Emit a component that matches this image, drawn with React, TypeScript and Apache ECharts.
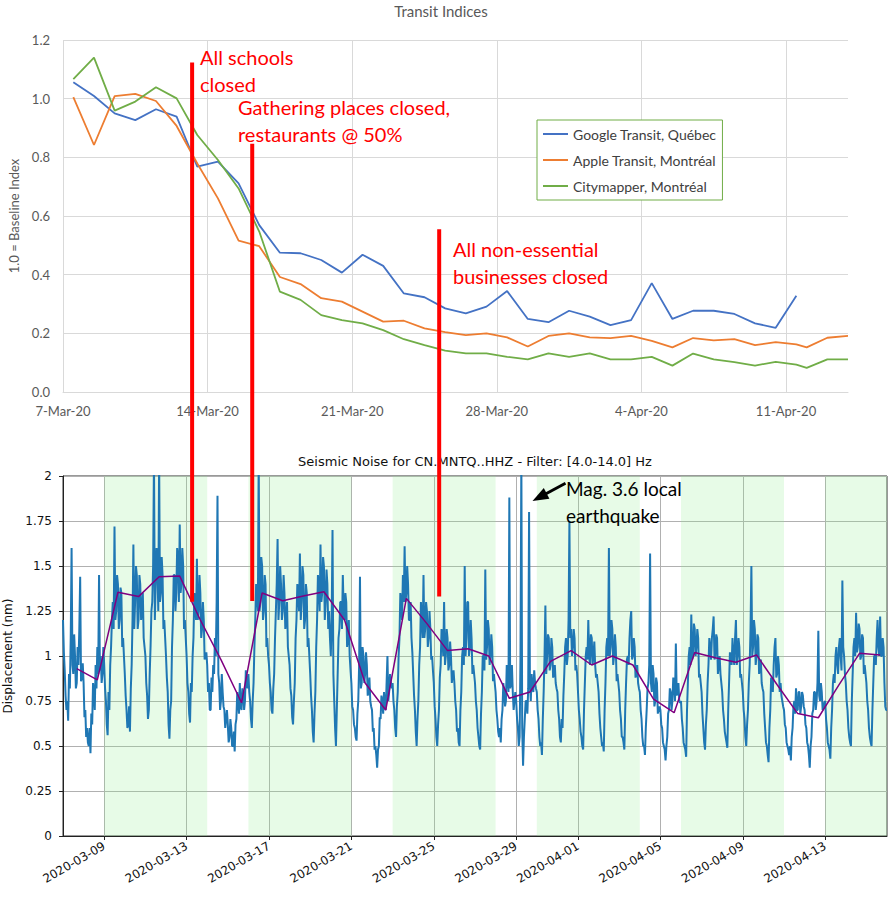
import React, { useEffect, useRef } from 'react';
import * as echarts from 'echarts';

// ---------------- Transit Indices (top chart) ----------------
// x = days since 2020-03-07 00:00; daily values are plotted at noon (k + 0.5)
const transitTickDays = [0, 7, 14, 21, 28, 35];
const monthNames = ['Jan', 'Feb', 'Mar', 'Apr', 'May'];
const googleQuebec = [
  1.056, 1.009, 0.95, 0.927, 0.964, 0.939, 0.768, 0.785, 0.711, 0.569,
  0.475, 0.473, 0.45, 0.407, 0.468, 0.43, 0.336, 0.323, 0.285, 0.268,
  0.291, 0.344, 0.249, 0.238, 0.277, 0.257, 0.228, 0.245, 0.371, 0.249,
  0.277, 0.277, 0.266, 0.234, 0.219, 0.328,
];
const appleMontreal = [
  1.005, 0.842, 1.009, 1.016, 0.992, 0.907, 0.779, 0.66, 0.516, 0.497,
  0.392, 0.368, 0.32, 0.308, 0.274, 0.24, 0.243, 0.217, 0.204, 0.194,
  0.2, 0.186, 0.155, 0.191, 0.2, 0.186, 0.184, 0.191, 0.174, 0.152,
  0.184, 0.176, 0.18, 0.16, 0.17, 0.162,
];
const citymapperMontreal = [
  1.067, 1.14, 0.959, 0.99, 1.039, 1.001, 0.876, 0.791, 0.694, 0.547,
  0.342, 0.314, 0.262, 0.245, 0.234, 0.211, 0.18, 0.16, 0.141, 0.132,
  0.132, 0.12, 0.111, 0.132, 0.12, 0.132, 0.111, 0.111, 0.12, 0.09,
  0.131, 0.111, 0.102, 0.09, 0.103, 0.093,
];
const tailDays = [36, 37, 38];
const appleTail = [0.152, 0.185, 0.191];
const citymapperTail = [0.082, 0.111, 0.111];

// ---------------- Seismic noise (bottom chart) ----------------
// hourly samples starting 2020-03-07 00 UTC, 24 per day (one row per day)
const seismicTickDates = [
  '2020-03-09', '2020-03-13', '2020-03-17', '2020-03-21', '2020-03-25',
  '2020-03-29', '2020-04-01', '2020-04-05', '2020-04-09', '2020-04-13',
];
const weekdaySpans = [
  ['2020-03-09', '2020-03-14'], ['2020-03-16', '2020-03-21'], ['2020-03-23', '2020-03-28'],
  ['2020-03-30', '2020-04-04'], ['2020-04-06', '2020-04-11'], ['2020-04-13', '2020-04-16'],
];
const noiseWeek1 = [
  1.2, 1.02, 0.92, 0.78, 0.7, 0.75, 0.64, 0.9, 0.82, 1.1, 1.6, 0.95, 0.9, 1.12, 1.0, 0.82, 0.85, 1.05, 0.95, 1.15, 1.44, 0.86, 0.88, 0.96,
  0.85, 0.66, 0.7, 0.55, 0.6, 0.52, 0.5, 0.6, 0.46, 0.68, 0.62, 0.85, 0.8, 0.7, 0.95, 0.82, 1.05, 0.9, 1.45, 0.92, 1.0, 0.85, 0.9, 1.05,
  0.95, 0.82, 0.75, 0.62, 0.56, 0.8, 0.7, 0.95, 1.05, 1.2, 1.3, 1.15, 1.72, 1.2, 1.25, 1.45, 1.4, 1.15, 1.2, 1.38, 1.35, 1.05, 1.1, 1.0,
  0.9, 0.78, 0.7, 0.6, 0.62, 0.72, 0.58, 0.82, 0.95, 1.2, 1.62, 1.15, 1.3, 1.5, 1.45, 1.15, 1.2, 1.45, 1.4, 1.2, 1.25, 1.35, 1.1, 1.05,
  1.0, 0.85, 0.78, 0.65, 0.7, 0.9, 1.05, 1.25, 1.3, 1.5, 2.1, 1.2, 1.4, 1.6, 1.5, 1.25, 2.1, 1.3, 1.35, 1.55, 1.45, 1.15, 1.2, 1.1,
  1.0, 0.88, 0.8, 0.62, 0.54, 0.7, 0.75, 1.05, 1.2, 1.45, 1.45, 1.25, 1.35, 1.6, 1.55, 1.3, 1.73, 1.35, 1.4, 1.6, 1.5, 1.15, 1.2, 1.1,
  1.0, 0.85, 0.8, 0.68, 0.63, 0.85, 0.8, 1.0, 1.1, 1.35, 1.3, 1.2, 1.54, 1.2, 1.25, 1.45, 1.35, 1.1, 1.15, 1.3, 1.2, 0.98, 1.0, 1.02,
];
const noiseWeek2 = [
  0.95, 0.8, 0.85, 0.7, 0.7, 0.88, 0.8, 0.95, 0.9, 1.1, 1.0, 1.3, 1.89, 0.9, 0.85, 0.7, 0.75, 0.9, 0.8, 0.72, 0.7, 0.6, 0.65, 0.7,
  0.62, 0.52, 0.55, 0.65, 0.6, 0.5, 0.5, 0.58, 0.47, 0.62, 0.65, 0.8, 0.75, 0.68, 0.85, 0.72, 0.7, 0.82, 0.8, 0.7, 0.75, 0.92, 0.85, 0.82,
  0.9, 0.8, 0.75, 0.65, 0.6, 0.75, 0.85, 1.05, 1.2, 1.4, 1.35, 1.25, 2.1, 1.25, 1.3, 1.55, 1.5, 1.2, 1.25, 1.45, 1.4, 1.05, 1.1, 1.0,
  0.95, 0.85, 0.8, 0.7, 0.68, 0.82, 0.9, 1.1, 1.25, 1.4, 1.65, 1.2, 1.3, 1.5, 1.4, 1.2, 1.25, 1.45, 1.35, 1.15, 1.2, 1.3, 1.05, 1.0,
  0.95, 0.82, 0.78, 0.66, 0.62, 0.75, 0.85, 1.1, 1.2, 1.4, 1.35, 1.25, 1.57, 1.2, 1.3, 1.5, 1.45, 1.15, 1.2, 1.4, 1.35, 1.05, 1.1, 1.0,
  0.9, 0.78, 0.7, 0.58, 0.52, 0.68, 0.8, 1.05, 1.2, 1.45, 1.4, 1.25, 1.62, 1.3, 1.35, 1.55, 1.5, 1.2, 1.3, 1.48, 1.4, 1.15, 1.25, 1.1,
  1.0, 1.2, 1.7, 0.9, 0.75, 0.6, 0.5, 0.7, 0.9, 1.1, 1.15, 1.3, 1.3, 1.15, 1.45, 1.25, 1.2, 1.35, 1.3, 1.05, 1.1, 1.2, 1.0, 0.92,
];
const noiseWeek3 = [
  0.85, 0.72, 0.7, 0.62, 0.6, 0.55, 0.53, 0.68, 0.75, 0.95, 1.44, 0.82, 0.85, 1.05, 1.0, 0.85, 0.9, 1.02, 0.95, 0.78, 0.8, 0.88, 0.75, 0.72,
  0.7, 0.58, 0.6, 0.48, 0.5, 0.45, 0.38, 0.48, 0.5, 0.66, 0.65, 0.78, 0.75, 0.68, 0.8, 0.72, 0.7, 0.85, 1.0, 0.75, 0.8, 0.9, 0.85, 0.82,
  0.85, 0.75, 0.7, 0.6, 0.55, 0.72, 0.8, 1.0, 1.1, 1.35, 1.3, 1.2, 1.45, 1.3, 1.61, 1.3, 1.35, 1.5, 1.4, 1.2, 1.2, 1.3, 1.1, 1.02,
  0.9, 0.78, 0.7, 0.58, 0.5, 0.65, 0.75, 0.95, 1.05, 1.3, 1.2, 1.1, 1.45, 1.1, 1.15, 1.3, 1.25, 1.05, 1.1, 1.25, 1.15, 0.98, 1.0, 0.92,
  0.85, 0.72, 0.65, 0.55, 0.5, 0.62, 0.7, 0.88, 0.95, 1.15, 1.1, 1.0, 1.3, 0.95, 1.0, 1.15, 1.1, 0.92, 0.95, 1.08, 1.0, 0.85, 0.9, 0.92,
  0.85, 0.75, 0.7, 0.58, 0.6, 0.52, 0.5, 0.7, 0.8, 1.0, 1.05, 0.95, 1.5, 1.0, 1.1, 1.3, 1.3, 1.0, 1.05, 1.2, 1.1, 0.9, 0.95, 0.9,
  0.85, 0.75, 0.7, 0.6, 0.55, 0.5, 0.48, 0.68, 0.8, 1.0, 1.0, 0.92, 1.48, 0.98, 1.05, 1.2, 1.15, 0.95, 1.0, 1.12, 1.05, 0.86, 0.9, 0.85,
];
const noiseWeek4 = [
  0.8, 0.7, 0.65, 0.58, 0.55, 0.6, 0.52, 0.65, 0.7, 0.85, 0.8, 0.72, 0.75, 0.95, 0.9, 0.8, 1.88, 0.82, 0.85, 0.95, 0.8, 0.7, 0.75, 0.8,
  0.75, 0.65, 0.6, 0.5, 0.55, 1.0, 2.1, 0.6, 0.39, 0.55, 0.65, 0.75, 0.75, 0.68, 0.82, 1.8, 0.85, 0.75, 0.9, 0.82, 0.8, 0.92, 0.85, 0.82,
  0.8, 0.7, 0.65, 0.55, 0.5, 0.52, 0.45, 0.65, 0.8, 1.0, 1.28, 0.9, 1.0, 1.12, 1.1, 0.92, 0.95, 1.1, 1.05, 0.88, 0.9, 0.95, 0.85, 0.82,
  0.8, 0.7, 0.65, 0.55, 0.52, 0.65, 0.6, 0.78, 0.9, 1.05, 1.1, 0.95, 1.0, 1.2, 1.75, 1.1, 1.15, 1.0, 1.05, 1.15, 1.1, 0.92, 0.95, 0.9,
  0.8, 0.7, 0.65, 0.58, 0.55, 0.5, 0.48, 0.7, 0.85, 1.0, 1.05, 0.98, 1.2, 1.0, 0.95, 1.12, 1.1, 0.95, 1.0, 1.08, 0.95, 0.88, 0.9, 0.85,
  0.8, 0.68, 0.6, 0.55, 0.5, 0.52, 0.47, 0.7, 0.85, 1.05, 1.1, 1.0, 1.6, 1.0, 1.05, 1.2, 1.15, 0.95, 1.0, 1.12, 1.05, 0.86, 0.9, 0.85,
  0.8, 0.7, 0.65, 0.55, 0.55, 0.52, 0.48, 0.7, 0.85, 0.98, 1.0, 0.95, 1.1, 1.2, 1.25, 0.98, 1.0, 1.1, 1.05, 0.88, 0.9, 0.95, 0.85, 0.82,
];
const noiseWeek5 = [
  0.8, 0.7, 0.65, 0.55, 0.5, 0.5, 0.45, 0.6, 0.7, 0.82, 0.85, 0.95, 1.57, 0.85, 0.8, 0.95, 0.9, 0.72, 0.75, 0.88, 0.85, 0.68, 0.7, 0.72,
  0.7, 0.62, 0.6, 0.52, 0.5, 0.48, 0.42, 0.5, 0.55, 0.68, 0.7, 0.82, 0.8, 0.7, 0.75, 0.88, 0.85, 0.75, 1.07, 0.78, 0.8, 0.85, 0.75, 0.74,
  0.75, 0.65, 0.6, 0.52, 0.5, 0.48, 0.44, 0.7, 0.85, 1.0, 1.05, 0.95, 1.23, 0.98, 1.0, 1.18, 1.15, 1.0, 1.05, 1.15, 1.1, 0.88, 0.9, 0.85,
  0.8, 0.68, 0.6, 0.52, 0.48, 0.62, 0.7, 0.85, 0.95, 1.1, 1.05, 0.98, 1.1, 1.15, 1.22, 0.98, 1.0, 1.12, 1.1, 0.9, 0.95, 1.0, 0.9, 0.85,
  0.8, 0.7, 0.65, 0.58, 0.55, 0.52, 0.49, 0.7, 0.85, 1.02, 1.0, 0.95, 1.1, 1.0, 0.95, 1.1, 1.2, 0.95, 1.0, 1.1, 1.05, 0.88, 0.9, 0.85,
  0.8, 0.7, 0.65, 0.55, 0.5, 0.62, 0.7, 0.85, 0.95, 1.15, 1.5, 1.0, 1.05, 1.2, 1.15, 0.95, 1.0, 1.12, 1.1, 0.9, 0.95, 0.98, 0.85, 0.82,
  0.8, 0.68, 0.6, 0.52, 0.5, 0.45, 0.41, 0.6, 0.7, 0.88, 0.85, 0.8, 0.95, 1.05, 1.1, 0.88, 0.9, 1.0, 0.95, 0.8, 0.85, 0.78, 0.75, 0.72,
];
const noiseWeek6 = [
  0.7, 0.62, 0.6, 0.52, 0.5, 0.48, 0.45, 0.5, 0.42, 0.55, 0.6, 0.72, 0.75, 0.68, 0.82, 0.7, 0.7, 0.8, 0.8, 0.68, 0.72, 0.8, 0.78, 0.72,
  0.7, 0.62, 0.6, 0.52, 0.5, 0.45, 0.38, 0.5, 0.55, 0.68, 0.7, 0.8, 0.8, 0.7, 0.75, 0.85, 1.14, 0.78, 0.75, 0.85, 0.8, 0.7, 0.72, 0.74,
  0.75, 0.65, 0.6, 0.52, 0.5, 0.48, 0.43, 0.6, 0.7, 0.85, 0.9, 0.85, 1.0, 1.05, 0.95, 0.9, 1.05, 1.1, 1.0, 0.92, 1.42, 1.05, 1.0, 0.9,
  0.85, 0.75, 0.7, 0.6, 0.55, 0.52, 0.5, 0.75, 0.9, 1.05, 1.1, 1.0, 1.24, 1.02, 1.05, 1.18, 1.15, 0.98, 1.0, 1.12, 1.1, 0.9, 0.95, 0.9,
  0.85, 0.75, 0.7, 0.6, 0.55, 0.52, 0.5, 0.7, 0.85, 1.0, 1.0, 0.95, 1.1, 1.2, 1.05, 1.0, 1.22, 1.0, 1.0, 1.1, 1.05, 0.85, 0.72, 0.7,
  0.7,
];
// daily level (purple), one per day, plotted at 16:00 UTC
const dailyLevel = [
  0.93, 0.867, 1.354, 1.33, 1.44, 1.444, 1.2, 0.98, 0.74, 1.35,
  1.307, 1.333, 1.357, 1.2, 0.85, 0.7, 1.32, 1.18, 1.03, 1.04,
  1.0, 0.765, 0.8, 0.97, 1.03, 0.95, 1.0, 0.95, 0.76, 0.685,
  1.02, 0.99, 0.965, 1.006, 0.84, 0.68, 0.657, 0.84, 1.015, 1.006,
];

// Government measures: day offset (since 2020-03-07) and where each marker line ends
const eventDays = [6.25, 9.16, 18.21];
const eventTopValues = [1.123, 0.846, 0.555];
const eventBottomValues = [1.302, 1.306, 1.33];
const eventTexts = ['All schools\nclosed', 'Gathering places closed,\nrestaurants @ 50%', 'All non-essential\nbusinesses closed'];

const START_MS = Date.UTC(2020, 2, 7);
const SAMPLE_HOURS = 1;
const SAMPLES_PER_DAY = 24 / SAMPLE_HOURS;

export default function App() {
  const ref = useRef<HTMLDivElement>(null);
  useEffect(() => {
    if (!ref.current) return;
    const chart = echarts.init(ref.current, undefined, { renderer: 'svg' });

    const noise = [...noiseWeek1, ...noiseWeek2, ...noiseWeek3, ...noiseWeek4, ...noiseWeek5, ...noiseWeek6];
    const times = noise.map((_, i) => {
      const iso = new Date(START_MS + i * SAMPLE_HOURS * 3600e3).toISOString();
      return iso.slice(0, 10) + ' ' + iso.slice(11, 13);
    });
    const tickSet = new Set(seismicTickDates.map((d) => d + ' 00'));
    const isTick = (_i: number, v: string) => tickSet.has(v);
    const level: (number | null)[] = noise.map(() => null);
    dailyLevel.forEach((v, k) => { level[k * SAMPLES_PER_DAY + 16] = v; });

    const topLabel = (v: number) => {
      if (!transitTickDays.includes(Math.round(v))) return '';
      const d = new Date(START_MS + v * 86400e3);
      return `${d.getUTCDate()}-${monthNames[d.getUTCMonth()]}-20`;
    };
    const atNoon = (arr: number[]) => arr.map((v, k) => [k + 0.5, v]);
    const tail = (arr: number[]) => arr.map((v, i) => [tailDays[i], v]);

    const calibri = 'Lato, "Liberation Sans", sans-serif';
    const dejavu = '"DejaVu Sans", sans-serif';

    const option: any = {
      animation: false,
      backgroundColor: '#ffffff',
      title: [
        { text: 'Transit Indices', left: 441, top: 3, padding: 0, textAlign: 'center',
          textStyle: { fontFamily: calibri, fontSize: 15, fontWeight: 'normal', color: '#595959' } },
        { text: 'Seismic Noise for CN.MNTQ..HHZ - Filter: [4.0-14.0] Hz', left: 475, top: 455, padding: 0, textAlign: 'center',
          textStyle: { fontFamily: dejavu, fontSize: 13, fontWeight: 'normal', color: '#111' } },
      ],
      legend: {
        orient: 'vertical', left: 537, top: 120, selectedMode: false,
        data: ['Google Transit, Québec', 'Apple Transit, Montréal', 'Citymapper, Montréal'],
        icon: 'rect', itemWidth: 25, itemHeight: 2, itemGap: 10,
        padding: [6, 6, 6, 6], borderColor: '#70AD47', borderWidth: 1, backgroundColor: '#fff',
        textStyle: { fontFamily: calibri, fontSize: 14, color: '#404040', lineHeight: 16 },
      },
      grid: [
        { left: 63, top: 40, width: 785, height: 352, outerBoundsMode: 'none' },
        { left: 63, top: 476, width: 824, height: 360, outerBoundsMode: 'none',
          show: true, borderColor: '#333', borderWidth: 1, backgroundColor: 'transparent' },
      ],
      xAxis: [
        {
          type: 'value', gridIndex: 0, min: 0, max: 38, interval: 7,
          axisLine: { show: true, lineStyle: { color: '#d9d9d9', width: 1 } },
          axisTick: { show: false },
          splitLine: { show: true, showMaxLine: false, lineStyle: { color: '#d9d9d9', width: 1 } },
          axisLabel: { formatter: topLabel, showMaxLabel: false, color: '#595959', fontSize: 13, fontFamily: calibri, margin: 12 },
        },
        {
          type: 'category', gridIndex: 1, boundaryGap: false, data: times,
          axisLine: { show: true, lineStyle: { color: '#222', width: 1 } },
          axisTick: { show: true, interval: isTick, length: 4, lineStyle: { color: '#222' } },
          splitLine: { show: true, interval: isTick, lineStyle: { color: '#b0b0b0', width: 1 } },
          axisLabel: { interval: isTick, formatter: (v: string) => v.slice(0, 10), rotate: 30, margin: 9,
            color: '#111', fontSize: 12, fontFamily: dejavu },
        },
      ],
      yAxis: [
        {
          type: 'value', gridIndex: 0, min: 0, max: 1.2, interval: 0.2,
          axisLine: { show: false }, axisTick: { show: false },
          splitLine: { lineStyle: { color: '#d9d9d9', width: 1 } },
          axisLabel: { formatter: (v: number) => v.toFixed(1), color: '#595959', fontSize: 13, fontFamily: calibri, margin: 13 },
          name: '1.0 = Baseline Index', nameLocation: 'middle', nameGap: 38,
          nameTextStyle: { fontFamily: calibri, fontSize: 13, color: '#595959' },
        },
        {
          type: 'value', gridIndex: 1, min: 0, max: 2, interval: 0.25,
          axisLine: { show: true, lineStyle: { color: '#222', width: 1 } },
          axisTick: { show: true, length: 4, lineStyle: { color: '#222' } },
          splitLine: { show: true, lineStyle: { color: '#b0b0b0', width: 1 } },
          axisLabel: { color: '#111', fontSize: 12, fontFamily: dejavu, margin: 11 },
          name: 'Displacement (nm)', nameLocation: 'middle', nameGap: 40,
          nameTextStyle: { fontFamily: dejavu, fontSize: 12, color: '#111' },
        },
      ],
      series: [
        { name: 'Google Transit, Québec', type: 'line', xAxisIndex: 0, yAxisIndex: 0, data: atNoon(googleQuebec),
          showSymbol: false, color: '#4472C4', lineStyle: { width: 1.8, color: '#4472C4' } },
        { name: 'Apple Transit, Montréal', type: 'line', xAxisIndex: 0, yAxisIndex: 0,
          data: [...atNoon(appleMontreal), ...tail(appleTail)],
          showSymbol: false, color: '#ED7D31', lineStyle: { width: 1.8, color: '#ED7D31' } },
        { name: 'Citymapper, Montréal', type: 'line', xAxisIndex: 0, yAxisIndex: 0,
          data: [...atNoon(citymapperMontreal), ...tail(citymapperTail)],
          showSymbol: false, color: '#70AD47', lineStyle: { width: 1.8, color: '#70AD47' } },
        { name: 'weekdays', type: 'line', xAxisIndex: 1, yAxisIndex: 1, data: [], z: 1, silent: true,
          markArea: { silent: true, itemStyle: { color: 'rgba(144,238,144,0.22)' },
            data: weekdaySpans.map(([a, b]) => [{ xAxis: a + ' 00' }, { xAxis: b + ' 00' }]) } },
        { name: 'noise', type: 'line', xAxisIndex: 1, yAxisIndex: 1, data: noise, z: 2,
          showSymbol: false, lineStyle: { width: 2, color: '#1f77b4' }, color: '#1f77b4' },
        { name: 'level', type: 'line', xAxisIndex: 1, yAxisIndex: 1, data: level, z: 3, connectNulls: true,
          showSymbol: false, lineStyle: { width: 1.5, color: '#800080' }, color: '#800080' },
      ],
    };
    chart.setOption(option);

    const gfx: any[] = [];
    eventDays.forEach((day, i) => {
      const p = chart.convertToPixel({ gridIndex: 0 }, [day, eventTopValues[i]]) as number[];
      const yb = chart.convertToPixel({ yAxisIndex: 1 }, eventBottomValues[i]) as number;
      gfx.push({ type: 'line', silent: true, z: 100,
        shape: { x1: p[0], y1: p[1], x2: p[0], y2: yb }, style: { stroke: '#ff0000', lineWidth: 4 } });
    });
    const textPos = [[200, 44], [238, 94], [453, 236]];
    eventTexts.forEach((t, i) => {
      gfx.push({ type: 'text', z: 101, silent: true, x: textPos[i][0], y: textPos[i][1],
        style: { text: t, fill: '#ff0000', fontSize: 20, fontFamily: calibri, lineHeight: 26.5, align: 'left', verticalAlign: 'top' } });
    });
    gfx.push({ type: 'text', z: 101, silent: true, x: 566, y: 475,
      style: { text: 'Mag. 3.6 local\nearthquake', fill: '#000', fontSize: 19, fontFamily: calibri, lineHeight: 26.7, align: 'left', verticalAlign: 'top' } });
    gfx.push({ type: 'line', z: 101, silent: true, shape: { x1: 565.5, y1: 483.3, x2: 546, y2: 493.7 },
      style: { stroke: '#000', lineWidth: 3 } });
    gfx.push({ type: 'polygon', z: 101, silent: true,
      shape: { points: [[532.5, 501], [549.4, 498.7], [543.8, 488.1]] }, style: { fill: '#000' } });
    chart.setOption({ graphic: gfx });

    return () => chart.dispose();
  }, []);
  return <div ref={ref} style={{ position: 'fixed', left: 0, top: 0, width: 896, height: 897 }} />;
}
